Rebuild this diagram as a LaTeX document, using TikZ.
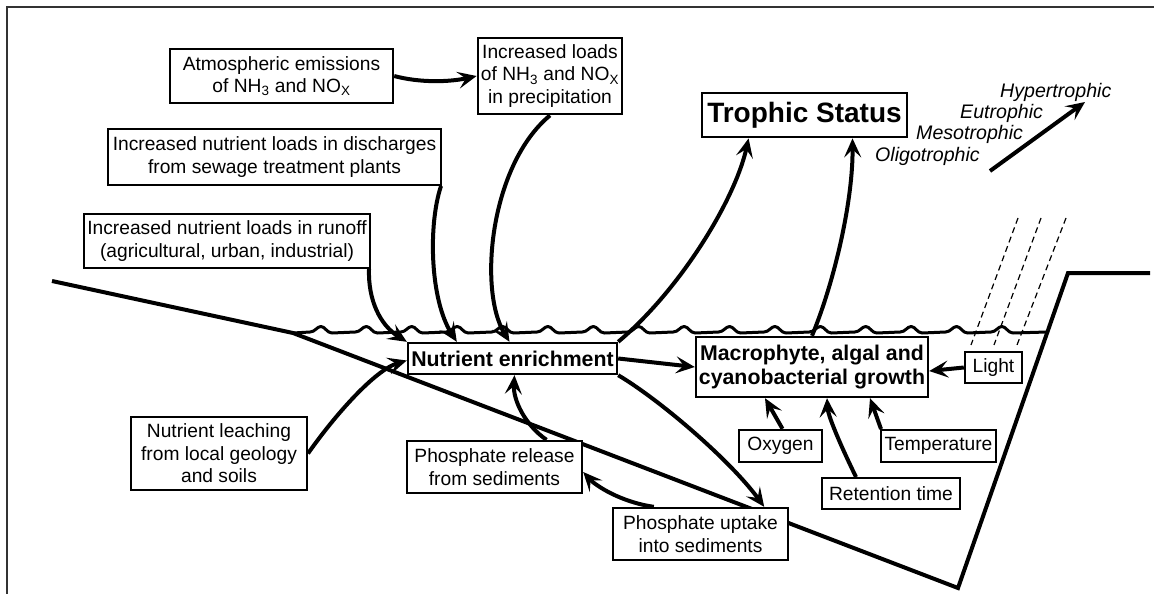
\documentclass[tikz,border=0pt]{standalone}
\usepackage{fontspec}
\setmainfont{Liberation Sans}
\usetikzlibrary{arrows.meta,calc}
\begin{document}
\begin{tikzpicture}[x=1pt,y=-1pt,
  box/.style={draw, line width=2.4pt, fill=white, inner sep=0pt, align=center, font=\fontsize{19.2}{22.5}\selectfont},
  thinbox/.style={box, line width=2pt},
  boldbox/.style={box, font=\fontsize{21.3}{23.5}\selectfont\bfseries},
  arr/.style={line width=4pt, -{Stealth[length=19pt,width=17pt,inset=8pt]}},
  land/.style={line width=4pt, line join=miter},
  wave/.style={line width=3pt, line join=round},
  ray/.style={line width=1.2pt, dash pattern=on 6pt off 4pt},
  grad/.style={anchor=base west, inner sep=0pt, font=\fontsize{19.6}{21}\selectfont\itshape},
]
\useasboundingbox (0,0) rectangle (1154,594);
% frame
\draw[line width=1.5pt, black!80] (7,594) -- (7,7) -- (1154,7);

% land profile
\coordinate (l0) at (52,281);
\coordinate (l1) at (293,333);
\coordinate (l2) at (958,588);
\coordinate (l3) at (1068,273);
\coordinate (l4) at (1150,273);
\coordinate (wr) at (1047,332);
\draw[land] (l0) -- (l1) -- (l2) -- (l3) -- (l4);

% water surface
\draw[wave] (l1) \foreach \k in {0,...,15} {
  -- ({321+45.4*\k-11},332)
  .. controls ({321+45.4*\k-6},332) and ({321+45.4*\k-4},326.5) .. ({321+45.4*\k},326.5)
  .. controls ({321+45.4*\k+4},326.5) and ({321+45.4*\k+6},333) .. ({321+45.4*\k+11},333)
} -- (wr);

% light rays
\draw[ray] (1018,218) -- (971,345);
\draw[ray] (1041,218) -- (994,345);
\draw[ray] (1066,218) -- (1017,345);

% boxes
\node[box, minimum width=223pt, minimum height=54pt] (atm) at (281.5,76)
  {Atmospheric emissions\\of NH\textsubscript{3} and NO\textsubscript{X}};
\node[box, line width=2.8pt, minimum width=144pt, minimum height=76pt] (inc) at (550,76)
  {Increased loads\\of NH\textsubscript{3} and NO\textsubscript{X}\\in precipitation};
\node[box, line width=2.8pt, minimum width=205pt, minimum height=44pt,
  font=\fontsize{28}{30}\selectfont\bfseries] (trophic) at (804.5,115) {Trophic Status};
\node[thinbox, minimum width=333pt, minimum height=56pt] (dis) at (274.5,157)
  {Increased nutrient loads in discharges\\from sewage treatment plants};
\node[thinbox, minimum width=286pt, minimum height=54pt] (run) at (227,241)
  {Increased nutrient loads in runoff\\(agricultural, urban, industrial)};
\node[boldbox, minimum width=209pt, minimum height=31pt] (ne) at (512.5,358.5)
  {Nutrient enrichment};
\node[boldbox, minimum width=232pt, minimum height=60pt] (mac) at (812,367)
  {Macrophyte, algal and\\cyanobacterial growth};
\node[box, minimum width=57pt, minimum height=31pt] (light) at (993.5,367.5) {Light};
\node[box, minimum width=83pt, minimum height=32pt] (oxy) at (780.5,446) {Oxygen};
\node[thinbox, minimum width=115pt, minimum height=32pt] (temp) at (938.5,446) {Temperature};
\node[thinbox, minimum width=138pt, minimum height=31pt] (ret) at (891,493.5) {Retention time};
\node[box, minimum width=175pt, minimum height=52pt] (upt) at (700.5,534)
  {Phosphate uptake\\into sediments};
\node[box, minimum width=175pt, minimum height=52pt] (rel) at (494.5,467)
  {Phosphate release\\from sediments};
\node[thinbox, minimum width=176pt, minimum height=73pt] (leach) at (219,453.5)
  {Nutrient leaching\\from local geology\\and soils};

% trophic gradient
\node[grad] (hyp) at (1000,97) {Hypertrophic};
\node[grad] (eut) at (960,118) {Eutrophic};
\node[grad] (mes) at (916,139) {Mesotrophic};
\node[grad] (oli) at (875,161) {Oligotrophic};
\coordinate (g0) at (990,171);
\coordinate (g1) at (1085,102);
\draw[arr] (g0) -- (g1);

% connectors
\draw[arr] (atm.east) .. controls (420,83) and (450,82) .. (inc.west);
\draw[arr] (inc.south) .. controls (490,165) and (478,290) .. ([xshift=-3pt]ne.north);
\draw[arr] ([xshift=-1pt]dis.south east) .. controls (428,225) and (430,300) .. ([xshift=50pt]ne.north west);
\draw[arr] ([xshift=-2pt]run.south east) .. controls (368,300) and (380,325) .. (ne.north west);
\draw[arr] (leach.east) .. controls (335,415) and (375,370) .. ([yshift=-2pt]ne.west);
\draw[arr] (ne.north east) .. controls (680,290) and (735,200) .. ([xshift=48pt]trophic.south west);
\draw[arr] (mac.north) .. controls (835,280) and (853,200) .. ([xshift=48pt]trophic.south);
\draw[arr] (ne.east) -- (mac.west);
\draw[arr] (ne.south east) .. controls (660,400) and (730,460) .. ([xshift=-25pt]upt.north east);
\draw[arr] ([xshift=52pt]rel.north) .. controls (525,425) and (513,400) .. ([xshift=2pt]ne.south);
\draw[arr] ([xshift=42pt]upt.north west) .. controls (620,502) and (595,485) .. ([yshift=-5pt]rel.east);
\draw[arr] (light.west) -- ([yshift=-4pt]mac.east);
\draw[arr] ([xshift=2pt]oxy.north) -- ([xshift=-47pt]mac.south);
\draw[arr] ([xshift=35pt]ret.north west) .. controls (838,440) and (828,415) .. ([xshift=15pt]mac.south);
\draw[arr] ([xshift=1pt]temp.north west) -- ([xshift=58pt]mac.south);
\end{tikzpicture}
\end{document}
